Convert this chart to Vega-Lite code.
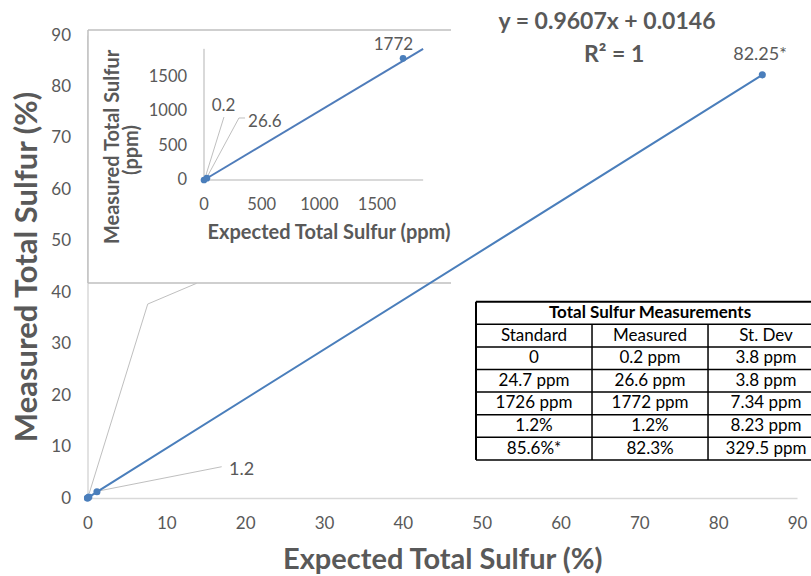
{
  "$schema": "https://vega.github.io/schema/vega-lite/v6.json",
  "width": 709.5,
  "height": 463,
  "autosize": {"type": "none"},
  "padding": {"left": 87.5, "top": 35, "right": 14, "bottom": 78},
  "background": "white",
  "config": {"view": {"stroke": null}, "font": "Lato", "text": {"font": "Lato"}},
  "datasets": {
    "one": [{"item": "annotation"}],
    "main": [
      {"expected": 0, "measured": 0, "label": ""},
      {"expected": 0.00247, "measured": 0.00266, "label": ""},
      {"expected": 0.1726, "measured": 0.1772, "label": ""},
      {"expected": 1.2, "measured": 1.2, "label": "1.2"},
      {"expected": 85.6, "measured": 82.25, "label": "82.25*"}
    ],
    "mainLeader": [
      {"leader": "0.2", "step": 0, "x": 0.23, "y": 0.97},
      {"leader": "0.2", "step": 1, "x": 7.64, "y": 37.7},
      {"leader": "0.2", "step": 2, "x": 13.85, "y": 41.74},
      {"leader": "1.2", "step": 0, "x": 1.59, "y": 1.42},
      {"leader": "1.2", "step": 1, "x": 17.02, "y": 6.08}
    ],
    "inset": [
      {"expected": 0, "measured": 0.2, "label": "0.2"},
      {"expected": 24.7, "measured": 26.6, "label": "26.6"},
      {"expected": 1726, "measured": 1772, "label": "1772"}
    ],
    "insetTrend": [
      {"expected": 0, "measured": 0},
      {"expected": 1900, "measured": 1908}
    ],
    "insetLeader": [
      {"leader": "0.2", "step": 0, "x": 9, "y": 29},
      {"leader": "0.2", "step": 1, "x": 173, "y": 917},
      {"leader": "26.6", "step": 0, "x": 22, "y": 29},
      {"leader": "26.6", "step": 1, "x": 303, "y": 903},
      {"leader": "26.6", "step": 2, "x": 356, "y": 903}
    ],
    "insetTicks": [{"v": 0}, {"v": 500}, {"v": 1000}, {"v": 1500}],
    "table": [
      {"row": 0, "col": 1, "text": "Total Sulfur Measurements"},
      {"row": 1, "col": 0, "text": "Standard"},
      {"row": 1, "col": 1, "text": "Measured"},
      {"row": 1, "col": 2, "text": "St. Dev"},
      {"row": 2, "col": 0, "text": "0"},
      {"row": 2, "col": 1, "text": "0.2 ppm"},
      {"row": 2, "col": 2, "text": "3.8 ppm"},
      {"row": 3, "col": 0, "text": "24.7 ppm"},
      {"row": 3, "col": 1, "text": "26.6 ppm"},
      {"row": 3, "col": 2, "text": "3.8 ppm"},
      {"row": 4, "col": 0, "text": "1726 ppm"},
      {"row": 4, "col": 1, "text": "1772 ppm"},
      {"row": 4, "col": 2, "text": "7.34 ppm"},
      {"row": 5, "col": 0, "text": "1.2%"},
      {"row": 5, "col": 1, "text": "1.2%"},
      {"row": 5, "col": 2, "text": "8.23 ppm"},
      {"row": 6, "col": 0, "text": "85.6%*"},
      {"row": 6, "col": 1, "text": "82.3%"},
      {"row": 6, "col": 2, "text": "329.5 ppm"}
    ]
  },
  "resolve": {"scale": {"x": "independent", "y": "independent"}},
  "layer": [
    {
      "data": {"name": "mainLeader"},
      "mark": {"type": "line", "color": "#bfbfbf", "strokeWidth": 1},
      "encoding": {
        "x": {"field": "x", "type": "quantitative", "scale": {"domain": [0, 90], "nice": false},
          "axis": {"values": [0, 10, 20, 30, 40, 50, 60, 70, 80, 90], "title": "Expected Total Sulfur (%)", "labelFlush": false,
            "labelPadding": 17, "titlePadding": 14, "domainColor": "#d9d9d9", "domainWidth": 1.5, "ticks": false, "grid": false,
            "labelColor": "#595959", "labelFontSize": 17, "labelFont": "Lato", "titleFont": "Lato", "titleFontSize": 29, "titleFontWeight": "bold", "titleColor": "#595959"}},
        "y": {"field": "y", "type": "quantitative", "scale": {"domain": [0, 90], "nice": false},
          "axis": {"values": [0, 10, 20, 30, 40, 50, 60, 70, 80, 90], "title": "Measured Total Sulfur  (%)", "labelFlush": false,
            "labelPadding": 17, "titlePadding": 7, "domainColor": "#d9d9d9", "domainWidth": 1.5, "ticks": false, "grid": false,
            "labelColor": "#595959", "labelFontSize": 17, "labelFont": "Lato", "titleFont": "Lato", "titleFontSize": 31, "titleFontWeight": "bold", "titleColor": "#595959"}},
        "detail": {"field": "leader"},
        "order": {"field": "step"}
      }
    },
    {
      "layer": [
        {
          "data": {"name": "one"},
          "mark": {"type": "rect", "fill": "white"},
          "encoding": {
            "x": {"datum": -1006, "type": "quantitative", "scale": {"domain": [-1010.2, 5141.8], "nice": false}, "axis": null},
            "x2": {"datum": 2142},
            "y": {"datum": 2184, "type": "quantitative", "scale": {"domain": [-4631, 2111.6], "nice": false}, "axis": null},
            "y2": {"datum": -1500}
          }
        },
        {
          "data": {"name": "one"},
          "mark": {"type": "rule", "color": "#bfbfbf", "strokeWidth": 1.5},
          "encoding": {
            "x": {"datum": -1006, "type": "quantitative", "scale": {"domain": [-1010.2, 5141.8], "nice": false}, "axis": null},
            "x2": {"datum": 2142},
            "y": {"datum": 2184, "type": "quantitative", "scale": {"domain": [-4631, 2111.6], "nice": false}, "axis": null}
          }
        },
        {
          "data": {"name": "one"},
          "mark": {"type": "rule", "color": "#bfbfbf", "strokeWidth": 1.5},
          "encoding": {
            "x": {"datum": -1006, "type": "quantitative", "scale": {"domain": [-1010.2, 5141.8], "nice": false}, "axis": null},
            "x2": {"datum": 2142},
            "y": {"datum": -1500, "type": "quantitative", "scale": {"domain": [-4631, 2111.6], "nice": false}, "axis": null}
          }
        },
        {
          "data": {"name": "one"},
          "mark": {"type": "rule", "color": "#bfbfbf", "strokeWidth": 1.5},
          "encoding": {
            "x": {"datum": -1006, "type": "quantitative", "scale": {"domain": [-1010.2, 5141.8], "nice": false}, "axis": null},
            "y": {"datum": 2184, "type": "quantitative", "scale": {"domain": [-4631, 2111.6], "nice": false}, "axis": null},
            "y2": {"datum": -1500}
          }
        },
        {
          "data": {"name": "one"},
          "mark": {"type": "rule", "color": "#d9d9d9", "strokeWidth": 2},
          "encoding": {
            "x": {"datum": 0, "type": "quantitative", "scale": {"domain": [-1010.2, 5141.8], "nice": false}, "axis": null},
            "x2": {"datum": 1900},
            "y": {"datum": 0, "type": "quantitative", "scale": {"domain": [-4631, 2111.6], "nice": false}, "axis": null}
          }
        },
        {
          "data": {"name": "one"},
          "mark": {"type": "rule", "color": "#d9d9d9", "strokeWidth": 2},
          "encoding": {
            "x": {"datum": 0, "type": "quantitative", "scale": {"domain": [-1010.2, 5141.8], "nice": false}, "axis": null},
            "y": {"datum": 0, "type": "quantitative", "scale": {"domain": [-4631, 2111.6], "nice": false}, "axis": null},
            "y2": {"datum": 1910}
          }
        },
        {
          "data": {"name": "insetTicks"},
          "mark": {"type": "text", "align": "center", "baseline": "middle", "fontSize": 16.5, "color": "#595959"},
          "encoding": {
            "x": {"field": "v", "type": "quantitative", "scale": {"domain": [-1010.2, 5141.8], "nice": false}, "axis": null},
            "y": {"datum": -364, "type": "quantitative", "scale": {"domain": [-4631, 2111.6], "nice": false}, "axis": null},
            "text": {"field": "v", "type": "quantitative", "format": "d"}
          }
        },
        {
          "data": {"name": "insetTicks"},
          "mark": {"type": "text", "align": "right", "baseline": "middle", "fontSize": 16.5, "color": "#595959"},
          "encoding": {
            "x": {"datum": -147, "type": "quantitative", "scale": {"domain": [-1010.2, 5141.8], "nice": false}, "axis": null},
            "y": {"field": "v", "type": "quantitative", "scale": {"domain": [-4631, 2111.6], "nice": false}, "axis": null},
            "text": {"field": "v", "type": "quantitative", "format": "d"}
          }
        },
        {
          "data": {"name": "one"},
          "mark": {"type": "text", "align": "center", "baseline": "middle", "fontSize": 20, "fontWeight": "bold", "color": "#595959", "text": "Expected Total Sulfur (ppm)"},
          "encoding": {
            "x": {"datum": 1084, "type": "quantitative", "scale": {"domain": [-1010.2, 5141.8], "nice": false}, "axis": null},
            "y": {"datum": -772, "type": "quantitative", "scale": {"domain": [-4631, 2111.6], "nice": false}, "axis": null}
          }
        },
        {
          "data": {"name": "one"},
          "mark": {"type": "text", "align": "center", "baseline": "middle", "angle": 270, "fontSize": 20, "fontWeight": "bold", "color": "#595959", "text": "Measured Total Sulfur"},
          "encoding": {
            "x": {"datum": -789, "type": "quantitative", "scale": {"domain": [-1010.2, 5141.8], "nice": false}, "axis": null},
            "y": {"datum": 481, "type": "quantitative", "scale": {"domain": [-4631, 2111.6], "nice": false}, "axis": null}
          }
        },
        {
          "data": {"name": "one"},
          "mark": {"type": "text", "align": "center", "baseline": "middle", "angle": 270, "fontSize": 20, "fontWeight": "bold", "color": "#595959", "text": "(ppm)"},
          "encoding": {
            "x": {"datum": -624, "type": "quantitative", "scale": {"domain": [-1010.2, 5141.8], "nice": false}, "axis": null},
            "y": {"datum": 437, "type": "quantitative", "scale": {"domain": [-4631, 2111.6], "nice": false}, "axis": null}
          }
        },
        {
          "data": {"name": "insetLeader"},
          "mark": {"type": "line", "color": "#bfbfbf", "strokeWidth": 1},
          "encoding": {
            "x": {"field": "x", "type": "quantitative", "scale": {"domain": [-1010.2, 5141.8], "nice": false}, "axis": null},
            "y": {"field": "y", "type": "quantitative", "scale": {"domain": [-4631, 2111.6], "nice": false}, "axis": null},
            "detail": {"field": "leader"},
            "order": {"field": "step"}
          }
        },
        {
          "data": {"name": "insetTrend"},
          "mark": {"type": "line", "color": "#4f7cba", "strokeWidth": 2},
          "encoding": {
            "x": {"field": "expected", "type": "quantitative", "scale": {"domain": [-1010.2, 5141.8], "nice": false}, "axis": null},
            "y": {"field": "measured", "type": "quantitative", "scale": {"domain": [-4631, 2111.6], "nice": false}, "axis": null}
          }
        },
        {
          "data": {"name": "inset"},
          "mark": {"type": "point", "filled": true, "opacity": 1, "color": "#4a7ebb", "size": 45},
          "encoding": {
            "x": {"field": "expected", "type": "quantitative", "scale": {"domain": [-1010.2, 5141.8], "nice": false}, "axis": null},
            "y": {"field": "measured", "type": "quantitative", "scale": {"domain": [-4631, 2111.6], "nice": false}, "axis": null}
          }
        },
        {
          "data": {"name": "inset"},
          "transform": [{"filter": "datum.label == '0.2'"}],
          "mark": {"type": "text", "align": "center", "baseline": "middle", "fontSize": 17, "color": "#595959", "dx": 19.5, "dy": -73.5},
          "encoding": {
            "x": {"field": "expected", "type": "quantitative", "scale": {"domain": [-1010.2, 5141.8], "nice": false}, "axis": null},
            "y": {"field": "measured", "type": "quantitative", "scale": {"domain": [-4631, 2111.6], "nice": false}, "axis": null},
            "text": {"field": "label"}
          }
        },
        {
          "data": {"name": "inset"},
          "transform": [{"filter": "datum.label == '26.6'"}],
          "mark": {"type": "text", "align": "center", "baseline": "middle", "fontSize": 17, "color": "#595959", "dx": 58, "dy": -56.5},
          "encoding": {
            "x": {"field": "expected", "type": "quantitative", "scale": {"domain": [-1010.2, 5141.8], "nice": false}, "axis": null},
            "y": {"field": "measured", "type": "quantitative", "scale": {"domain": [-4631, 2111.6], "nice": false}, "axis": null},
            "text": {"field": "label"}
          }
        },
        {
          "data": {"name": "inset"},
          "transform": [{"filter": "datum.label == '1772'"}],
          "mark": {"type": "text", "align": "center", "baseline": "middle", "fontSize": 17, "color": "#595959", "dx": -9.6, "dy": -13.3},
          "encoding": {
            "x": {"field": "expected", "type": "quantitative", "scale": {"domain": [-1010.2, 5141.8], "nice": false}, "axis": null},
            "y": {"field": "measured", "type": "quantitative", "scale": {"domain": [-4631, 2111.6], "nice": false}, "axis": null},
            "text": {"field": "label"}
          }
        }
      ]
    },
    {
      "layer": [
        {
          "data": {"name": "main"},
          "mark": {"type": "line", "color": "#4a7ebb", "strokeWidth": 2},
          "encoding": {
            "x": {"field": "expected", "type": "quantitative", "scale": {"domain": [0, 90], "nice": false}, "axis": null},
            "y": {"field": "measured", "type": "quantitative", "scale": {"domain": [0, 90], "nice": false}, "axis": null},
            "order": {"field": "expected"}
          }
        },
        {
          "data": {"name": "main"},
          "mark": {"type": "point", "filled": true, "opacity": 1, "color": "#4a7ebb", "size": 50},
          "encoding": {
            "x": {"field": "expected", "type": "quantitative", "scale": {"domain": [0, 90], "nice": false}, "axis": null},
            "y": {"field": "measured", "type": "quantitative", "scale": {"domain": [0, 90], "nice": false}, "axis": null}
          }
        },
        {
          "data": {"name": "main"},
          "transform": [{"filter": "datum.label == '1.2'"}],
          "mark": {"type": "text", "align": "center", "baseline": "middle", "fontSize": 18, "color": "#595959", "dx": 144.7, "dy": -21.8},
          "encoding": {
            "x": {"field": "expected", "type": "quantitative", "scale": {"domain": [0, 90], "nice": false}, "axis": null},
            "y": {"field": "measured", "type": "quantitative", "scale": {"domain": [0, 90], "nice": false}, "axis": null},
            "text": {"field": "label"}
          }
        },
        {
          "data": {"name": "main"},
          "transform": [{"filter": "datum.label == '82.25*'"}],
          "mark": {"type": "text", "align": "center", "baseline": "middle", "fontSize": 18, "color": "#595959", "dx": -2.3, "dy": -19.9},
          "encoding": {
            "x": {"field": "expected", "type": "quantitative", "scale": {"domain": [0, 90], "nice": false}, "axis": null},
            "y": {"field": "measured", "type": "quantitative", "scale": {"domain": [0, 90], "nice": false}, "axis": null},
            "text": {"field": "label"}
          }
        },
        {
          "data": {"name": "one"},
          "mark": {"type": "text", "align": "center", "baseline": "middle", "fontSize": 23, "fontWeight": "bold", "color": "#595959", "text": "y = 0.9607x + 0.0146"},
          "encoding": {
            "x": {"datum": 65.9, "type": "quantitative", "scale": {"domain": [0, 90], "nice": false}, "axis": null},
            "y": {"datum": 92.53, "type": "quantitative", "scale": {"domain": [0, 90], "nice": false}, "axis": null}
          }
        },
        {
          "data": {"name": "one"},
          "mark": {"type": "text", "align": "center", "baseline": "middle", "fontSize": 23, "fontWeight": "bold", "color": "#595959", "text": "R² = 1"},
          "encoding": {
            "x": {"datum": 66.8, "type": "quantitative", "scale": {"domain": [0, 90], "nice": false}, "axis": null},
            "y": {"datum": 86.12, "type": "quantitative", "scale": {"domain": [0, 90], "nice": false}, "axis": null}
          }
        }
      ]
    },
    {
      "resolve": {"scale": {"x": "independent", "y": "independent"}},
      "layer": [
        {
          "data": {"name": "table"},
          "transform": [{"filter": "datum.row == 0"}],
          "mark": {"type": "text", "align": "center", "baseline": "middle", "fontSize": 17, "fontWeight": "bold", "color": "black"},
          "encoding": {
            "x": {"field": "col", "type": "quantitative", "scale": {"domain": [-3.849, 2.267], "nice": false}, "axis": null},
            "y": {"field": "row", "type": "quantitative", "scale": {"domain": [-12.301, 8.186], "nice": false, "reverse": true}, "axis": null},
            "text": {"field": "text"}
          }
        },
        {
          "data": {"name": "table"},
          "transform": [{"filter": "datum.row > 0"}],
          "mark": {"type": "text", "align": "center", "baseline": "middle", "fontSize": 17, "color": "black"},
          "encoding": {
            "x": {"field": "col", "type": "quantitative", "scale": {"domain": [-3.849, 2.267], "nice": false}, "axis": null},
            "y": {"field": "row", "type": "quantitative", "scale": {"domain": [-12.301, 8.186], "nice": false, "reverse": true}, "axis": null},
            "text": {"field": "text"}
          }
        },
        {
          "data": {"name": "table"},
          "transform": [{"filter": "datum.col == 1"}],
          "mark": {"type": "rule", "color": "black", "strokeWidth": 1.5},
          "encoding": {
            "x": {"datum": -1, "type": "quantitative", "scale": {"domain": [-4.349, 1.767], "nice": false}, "axis": null},
            "x2": {"datum": 2},
            "y": {"field": "row", "type": "quantitative", "scale": {"domain": [-12.801, 7.686], "nice": false, "reverse": true}, "axis": null}
          }
        },
        {
          "data": {"name": "one"},
          "mark": {"type": "rule", "color": "black", "strokeWidth": 2},
          "encoding": {
            "x": {"datum": -1, "type": "quantitative", "scale": {"domain": [-4.349, 1.767], "nice": false}, "axis": null},
            "x2": {"datum": 2},
            "y": {"datum": -1, "type": "quantitative", "scale": {"domain": [-12.801, 7.686], "nice": false, "reverse": true}, "axis": null}
          }
        },
        {
          "data": {"name": "table"},
          "transform": [{"filter": "datum.row == 1"}],
          "mark": {"type": "rule", "color": "black", "strokeWidth": 1.5},
          "encoding": {
            "x": {"field": "col", "type": "quantitative", "scale": {"domain": [-4.349, 1.767], "nice": false}, "axis": null},
            "y": {"datum": 0, "type": "quantitative", "scale": {"domain": [-12.801, 7.686], "nice": false, "reverse": true}, "axis": null},
            "y2": {"datum": 6}
          }
        },
        {
          "data": {"name": "one"},
          "mark": {"type": "rule", "color": "black", "strokeWidth": 2},
          "encoding": {
            "x": {"datum": -1, "type": "quantitative", "scale": {"domain": [-4.349, 1.767], "nice": false}, "axis": null},
            "y": {"datum": -1, "type": "quantitative", "scale": {"domain": [-12.801, 7.686], "nice": false, "reverse": true}, "axis": null},
            "y2": {"datum": 6}
          }
        }
      ]
    }
  ]
}
